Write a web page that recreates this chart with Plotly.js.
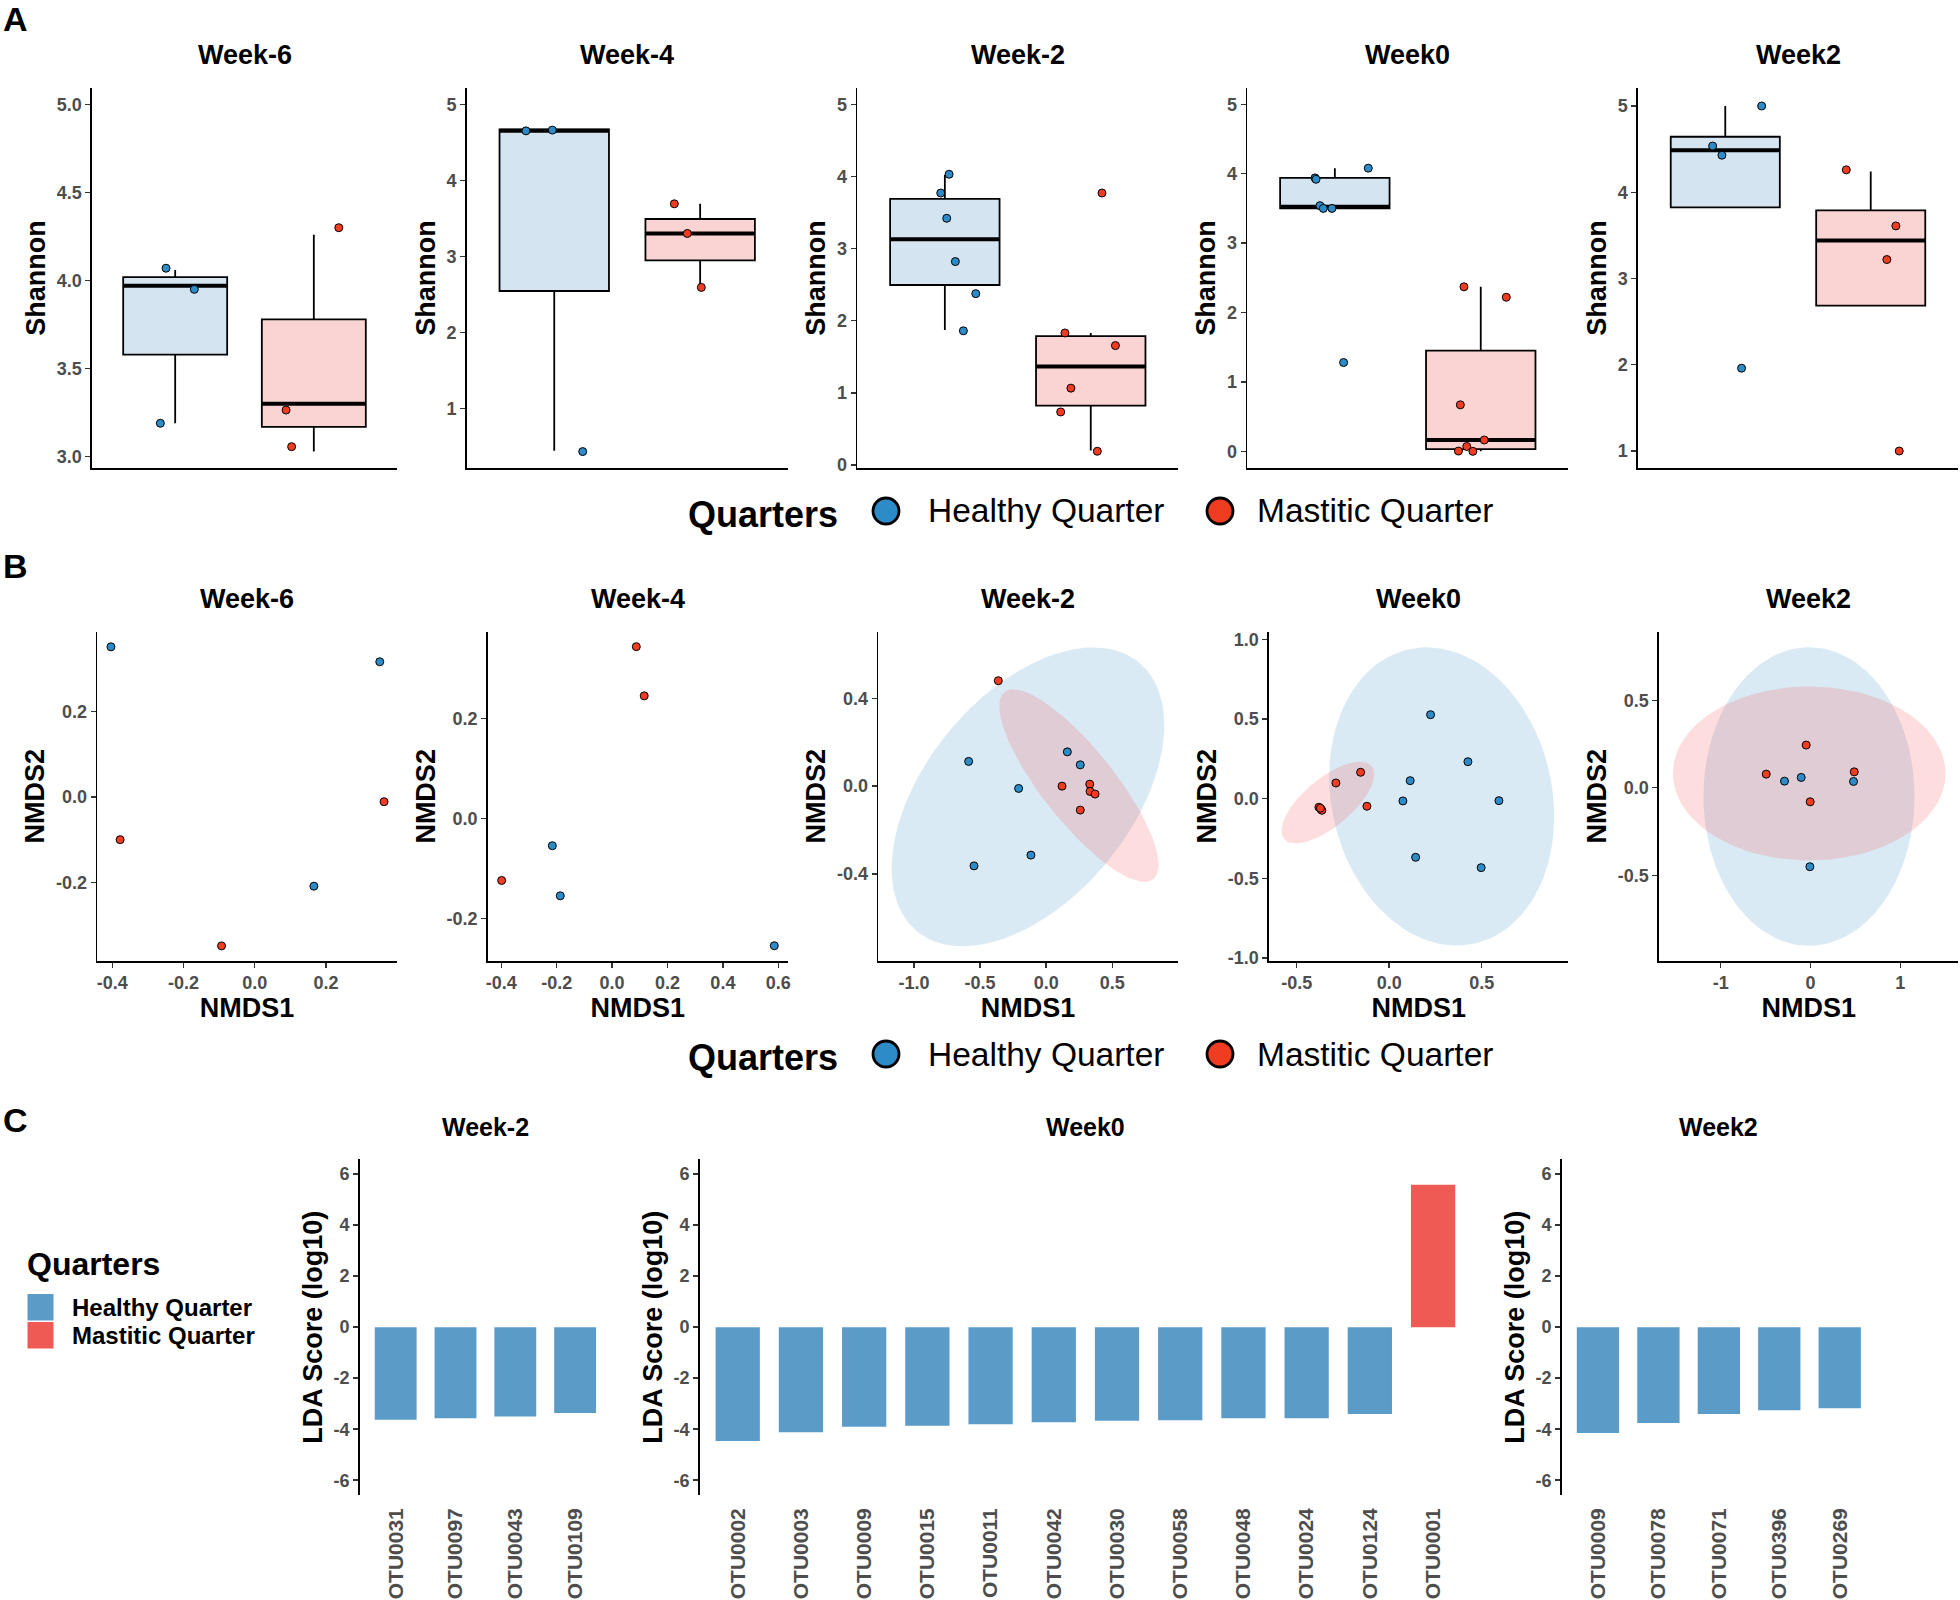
<!DOCTYPE html>
<html><head><meta charset="utf-8">
<script src="https://cdn.plot.ly/plotly-3.0.1.min.js"></script>
<style>html,body{margin:0;padding:0;background:#fff}</style>
</head><body>
<div id="chart" style="width:1960px;height:1600px"></div>
<script>
// ---------------- DATA ----------------
const weeks = ["Week-6", "Week-4", "Week-2", "Week0", "Week2"];
const groups = ["Healthy Quarter", "Mastitic Quarter"];

// Panel A: Shannon diversity per sample, with the jittered x position of each dot (1 = healthy, 2 = mastitic)
const shannonHealthy = [
  [4.07, 3.95, 3.19],
  [4.65, 4.66, 0.43],
  [4.03, 3.77, 3.42, 2.82, 2.375, 1.86],
  [3.94, 3.92, 4.08, 3.54, 3.50, 3.50, 1.28],
  [5.0, 4.536, 4.43, 1.96]
];
const jitterHealthy = [
  [0.934, 1.138, 0.893],
  [0.806, 0.987, 1.195],
  [1.029, 0.972, 1.013, 1.072, 1.212, 1.127],
  [0.864, 0.871, 1.229, 0.898, 0.921, 0.980, 1.060],
  [1.250, 0.913, 0.977, 1.112]
];
const shannonMastitic = [
  [4.30, 3.265, 3.057],
  [3.69, 3.30, 2.59],
  [3.77, 1.83, 1.655, 1.065, 0.735, 0.19],
  [2.37, 2.22, 0.67, 0.163, 0.07, 0.004, 0.0],
  [4.26, 3.61, 3.22, 1.0]
];
const jitterMastitic = [
  [2.18, 1.80, 1.84],
  [1.823, 1.912, 2.008],
  [2.077, 1.823, 2.169, 1.864, 1.794, 2.045],
  [1.885, 2.175, 1.860, 2.024, 1.904, 1.847, 1.946],
  [1.832, 2.173, 2.111, 2.196]
];
// Box statistics
const boxHealthyLow  = [3.19, 0.44, 1.87, 3.50, 3.825];
const boxHealthyQ1   = [3.58, 2.543, 2.495, 3.50, 3.825];
const boxHealthyMed  = [3.97, 4.65, 3.13, 3.525, 4.486];
const boxHealthyQ3   = [4.02, 4.67, 3.69, 3.94, 4.644];
const boxHealthyHigh = [4.06, 4.67, 4.02, 4.08, 5.0];
const boxMastiticLow  = [3.03, 2.59, 0.20, 0.0, 2.685];
const boxMastiticQ1   = [3.169, 2.947, 0.822, 0.033, 2.685];
const boxMastiticMed  = [3.30, 3.30, 1.365, 0.163, 3.44];
const boxMastiticQ3   = [3.78, 3.49, 1.785, 1.45, 3.79];
const boxMastiticHigh = [4.26, 3.69, 1.83, 2.37, 4.24];
const shannonTicks = [[3.0, 3.5, 4.0, 4.5, 5.0], [1, 2, 3, 4, 5], [0, 1, 2, 3, 4, 5], [0, 1, 2, 3, 4, 5], [1, 2, 3, 4, 5]];
const shannonTickText = [["3.0", "3.5", "4.0", "4.5", "5.0"], ["1", "2", "3", "4", "5"], ["0", "1", "2", "3", "4", "5"], ["0", "1", "2", "3", "4", "5"], ["1", "2", "3", "4", "5"]];

// Panel B: NMDS ordination
const nmds1Healthy = [
  [-0.4037, 0.351, 0.166],
  [-0.2157, -0.187, 0.5856],
  [0.160, 0.258, -0.5865, -0.2085, -0.1153, -0.546],
  [0.2236, 0.4254, 0.1135, 0.074, 0.593, 0.1427, 0.497],
  [-0.2895, -0.1036, 0.479, -0.0067]
];
const nmds2Healthy = [
  [0.352, 0.317, -0.209],
  [-0.0547, -0.155, -0.255],
  [0.156, 0.097, 0.1125, -0.0105, -0.314, -0.363],
  [0.527, 0.232, 0.113, -0.0144, -0.0125, -0.368, -0.433],
  [0.038, 0.059, 0.036, -0.451]
];
const nmds1Mastitic = [
  [0.363, -0.378, -0.0932],
  [0.0874, 0.116, -0.3986],
  [-0.362, 0.120, 0.3295, 0.332, 0.370, 0.258],
  [-0.1546, -0.288, -0.1205, -0.380, -0.369, -0.364, -0.372],
  [-0.048, -0.493, 0.487, -0.0033]
];
const nmds2Mastitic = [
  [-0.011, -0.100, -0.349],
  [0.344, 0.2455, -0.1243],
  [0.48, 0.0, 0.009, -0.024, -0.036, -0.109],
  [0.1656, 0.0985, -0.0477, -0.054, -0.0665, -0.073, -0.060],
  [0.244, 0.078, 0.091, -0.080]
];
// 95% ellipses: centre, semi-diameter through the top point (U) and the horizontal conjugate semi-diameter (V)
const ellipseWeek  = ["Week-2", "Week-2", "Week0", "Week0", "Week2", "Week2"];
const ellipseGroup = ["Healthy Quarter", "Mastitic Quarter", "Healthy Quarter", "Mastitic Quarter", "Healthy Quarter", "Mastitic Quarter"];
const ellipseCx = [-0.1377, 0.2481, 0.2838, -0.3314, -0.0167, -0.0145];
const ellipseCy = [-0.0487, 0.0023, 0.0138, -0.0238, -0.0497, 0.0817];
const ellipseUx = [0.4942, -0.4967, -0.0811, 0.173, 0.0, 0.0];
const ellipseUy = [0.6803, 0.4381, 0.936, 0.2562, 0.853, 0.4971];
const ellipseVx = [0.9053, 0.3412, 0.6027, 0.1811, 1.1748, 1.518];
const nmdsXTicks = [[-0.4, -0.2, 0, 0.2], [-0.4, -0.2, 0, 0.2, 0.4, 0.6], [-1, -0.5, 0, 0.5], [-0.5, 0, 0.5], [-1, 0, 1]];
const nmdsXTickText = [["-0.4", "-0.2", "0.0", "0.2"], ["-0.4", "-0.2", "0.0", "0.2", "0.4", "0.6"], ["-1.0", "-0.5", "0.0", "0.5"], ["-0.5", "0.0", "0.5"], ["-1", "0", "1"]];
const nmdsYTicks = [[-0.2, 0, 0.2], [-0.2, 0, 0.2], [-0.4, 0, 0.4], [-1, -0.5, 0, 0.5, 1], [-0.5, 0, 0.5]];
const nmdsYTickText = [["-0.2", "0.0", "0.2"], ["-0.2", "0.0", "0.2"], ["-0.4", "0.0", "0.4"], ["-1.0", "-0.5", "0.0", "0.5", "1.0"], ["-0.5", "0.0", "0.5"]];

// Panel C: LEfSe LDA scores
const ldaWeeks = ["Week-2", "Week0", "Week2"];
const ldaOtuWeekM2 = ["OTU0031", "OTU0097", "OTU0043", "OTU0109"];
const ldaScoreWeekM2 = [-3.63, -3.57, -3.50, -3.37];
const ldaGroupWeekM2 = ["Healthy Quarter", "Healthy Quarter", "Healthy Quarter", "Healthy Quarter"];
const ldaOtuWeek0 = ["OTU0002", "OTU0003", "OTU0009", "OTU0015", "OTU0011", "OTU0042", "OTU0030", "OTU0058", "OTU0048", "OTU0024", "OTU0124", "OTU0001"];
const ldaScoreWeek0 = [-4.46, -4.12, -3.90, -3.87, -3.81, -3.73, -3.67, -3.65, -3.57, -3.57, -3.40, 5.58];
const ldaGroupWeek0 = ["Healthy Quarter", "Healthy Quarter", "Healthy Quarter", "Healthy Quarter", "Healthy Quarter", "Healthy Quarter", "Healthy Quarter", "Healthy Quarter", "Healthy Quarter", "Healthy Quarter", "Healthy Quarter", "Mastitic Quarter"];
const ldaOtuWeek2 = ["OTU0009", "OTU0078", "OTU0071", "OTU0396", "OTU0269"];
const ldaScoreWeek2 = [-4.15, -3.76, -3.40, -3.26, -3.18];
const ldaGroupWeek2 = ["Healthy Quarter", "Healthy Quarter", "Healthy Quarter", "Healthy Quarter", "Healthy Quarter"];
const ldaTicks = [-6, -4, -2, 0, 2, 4, 6];

// ---------------- STYLE / LAYOUT ----------------
const FONT = "Liberation Sans, Arial, Helvetica, sans-serif";
const pointColor = {"Healthy Quarter": "#2D8BC8", "Mastitic Quarter": "#F03D22"};
const boxFill = {"Healthy Quarter": "#D4E4F0", "Mastitic Quarter": "#FAD4D3"};
const ellipseFill = {"Healthy Quarter": "rgba(70,150,200,0.20)", "Mastitic Quarter": "rgba(245,100,100,0.22)"};
const barColor = {"Healthy Quarter": "#5B9BC8", "Mastitic Quarter": "#EF5A55"};

const W = 1960, H = 1600;
const fx = p => p / W;
const fy = p => 1 - p / H;

// pixel boxes of the panels
const rowA = [88, 468], rowB = [631.7, 961], rowC = [1159.3, 1495];
const colA = [[92, 397], [466.7, 787.7], [857.3, 1178.3], [1247.3, 1568.3], [1638, 1958]];
const colB = [[97.3, 396.7], [487.7, 787.7], [878.3, 1177.7], [1269, 1568.3], [1659, 1958.3]];
const colC = [[359.8, 611], [699.8, 1471], [1561.7, 1876]];
const rangeA = [[2.936, 5.093], [0.214, 5.214], [-0.042, 5.226], [-0.24, 5.235], [0.803, 5.209]];
const rangeBx = [[-0.442, 0.3985], [-0.449, 0.634], [-1.27, 0.995], [-0.6497, 0.968], [-1.687, 1.646]];
const rangeBy = [[-0.3844, 0.3875], [-0.2856, 0.374], [-0.796, 0.703], [-1.019, 1.048], [-0.99, 0.892]];

const tickFont = {family: FONT, size: 18, color: "#4D4D4D", weight: "bold"};
const axTitleFont = {family: FONT, size: 27, color: "#000", weight: "bold"};
const panelTitleFont = {family: FONT, size: 27, color: "#000", weight: "bold"};

const layout = {
  width: W, height: H, margin: {l: 0, r: 0, t: 0, b: 0},
  paper_bgcolor: "#fff", plot_bgcolor: "#fff", showlegend: false,
  font: {family: FONT}, annotations: [], shapes: []
};

function axName(i) { return i === 1 ? "" : String(i); }
function baseAxis() {
  return {showgrid: false, zeroline: false, showline: true, linecolor: "#000", linewidth: 1.6,
          fixedrange: true};
}
function yAxis(i, rowPx, range, tickvals, ticktext, title) {
  return Object.assign(baseAxis(), {
    domain: [fy(rowPx[1]), fy(rowPx[0])], range, anchor: "x" + axName(i),
    tickmode: "array", tickvals, ticktext, ticks: "outside", ticklen: 5, tickwidth: 1.4, tickcolor: "#333",
    tickfont: tickFont, title: {text: title, font: axTitleFont, standoff: 3}
  });
}

const traces = [];
let axIdx = 0;

// ---- Panel A ----
weeks.forEach((wk, w) => {
  axIdx++;
  const n = axName(axIdx);
  layout["xaxis" + n] = Object.assign(baseAxis(), {
    domain: [fx(colA[w][0]), fx(colA[w][1])], range: [0.4, 2.6], anchor: "y" + n,
    ticks: "", showticklabels: false
  });
  layout["yaxis" + n] = yAxis(axIdx, rowA, rangeA[w], shannonTicks[w], shannonTickText[w], "Shannon");
  const stats = [
    [boxHealthyLow, boxHealthyQ1, boxHealthyMed, boxHealthyQ3, boxHealthyHigh],
    [boxMastiticLow, boxMastiticQ1, boxMastiticMed, boxMastiticQ3, boxMastiticHigh]
  ];
  groups.forEach((g, gi) => {
    const s = stats[gi];
    traces.push({
      type: "box", name: g, x: [gi + 1], lowerfence: [s[0][w]], q1: [s[1][w]], median: [s[2][w]],
      q3: [s[3][w]], upperfence: [s[4][w]], width: 0.75, whiskerwidth: 0, boxpoints: false,
      fillcolor: boxFill[g], line: {color: "#000", width: 1.8},
      xaxis: "x" + n, yaxis: "y" + n, hoverinfo: "skip"
    });
    // thicker median bar, as ggplot draws it
    traces.push({
      type: "scatter", mode: "lines", x: [gi + 1 - 0.375, gi + 1 + 0.375], y: [s[2][w], s[2][w]],
      line: {color: "#000", width: 4}, xaxis: "x" + n, yaxis: "y" + n, hoverinfo: "skip"
    });
  });
  [[jitterHealthy, shannonHealthy], [jitterMastitic, shannonMastitic]].forEach((pair, gi) => {
    traces.push({
      type: "scatter", mode: "markers", name: groups[gi], x: pair[0][w], y: pair[1][w],
      marker: {size: 8, color: pointColor[groups[gi]], line: {color: "#000", width: 1}},
      cliponaxis: false, xaxis: "x" + n, yaxis: "y" + n
    });
  });
  layout.annotations.push({text: wk, xref: "paper", yref: "paper", x: fx((colA[w][0] + colA[w][1]) / 2), y: fy(55),
    xanchor: "center", yanchor: "middle", showarrow: false, font: panelTitleFont});
});

// ---- Panel B ----
weeks.forEach((wk, w) => {
  axIdx++;
  const n = axName(axIdx);
  layout["xaxis" + n] = Object.assign(baseAxis(), {
    domain: [fx(colB[w][0]), fx(colB[w][1])], range: rangeBx[w], anchor: "y" + n,
    tickmode: "array", tickvals: nmdsXTicks[w], ticktext: nmdsXTickText[w],
    ticks: "outside", ticklen: 5, tickwidth: 1.4, tickcolor: "#333", tickfont: tickFont,
    title: {text: "NMDS1", font: axTitleFont, standoff: 0}
  });
  layout["yaxis" + n] = yAxis(axIdx, rowB, rangeBy[w], nmdsYTicks[w], nmdsYTickText[w], "NMDS2");
  ellipseWeek.forEach((ew, e) => {
    if (ew !== wk) return;
    const xs = [], ys = [];
    const steps = 120;
    for (let k = 0; k <= steps; k++) {
      const t = 2 * Math.PI * k / steps;
      xs.push(ellipseCx[e] + Math.cos(t) * ellipseUx[e] + Math.sin(t) * ellipseVx[e]);
      ys.push(ellipseCy[e] + Math.cos(t) * ellipseUy[e]);
    }
    traces.push({type: "scatter", mode: "lines", x: xs, y: ys, fill: "toself",
      fillcolor: ellipseFill[ellipseGroup[e]], line: {width: 0, color: "rgba(0,0,0,0)"},
      xaxis: "x" + n, yaxis: "y" + n, hoverinfo: "skip"});
  });
  [[nmds1Healthy, nmds2Healthy], [nmds1Mastitic, nmds2Mastitic]].forEach((pair, gi) => {
    traces.push({
      type: "scatter", mode: "markers", name: groups[gi], x: pair[0][w], y: pair[1][w],
      marker: {size: 8, color: pointColor[groups[gi]], line: {color: "#000", width: 1}},
      cliponaxis: false, xaxis: "x" + n, yaxis: "y" + n
    });
  });
  layout.annotations.push({text: wk, xref: "paper", yref: "paper", x: fx((colB[w][0] + colB[w][1]) / 2), y: fy(599),
    xanchor: "center", yanchor: "middle", showarrow: false, font: panelTitleFont});
});

// ---- Panel C ----
const ldaOtus = [ldaOtuWeekM2, ldaOtuWeek0, ldaOtuWeek2];
const ldaScores = [ldaScoreWeekM2, ldaScoreWeek0, ldaScoreWeek2];
const ldaGroups = [ldaGroupWeekM2, ldaGroupWeek0, ldaGroupWeek2];
ldaWeeks.forEach((wk, c) => {
  axIdx++;
  const n = axName(axIdx);
  layout["xaxis" + n] = {
    domain: [fx(colC[c][0]), fx(colC[c][1])], type: "category", categoryorder: "array",
    categoryarray: ldaOtus[c], range: [-0.6, ldaOtus[c].length - 0.4], anchor: "y" + n,
    showline: false, showgrid: false, zeroline: false, ticks: "", tickangle: -90, ticklabelstandoff: 8,
    tickfont: {family: FONT, size: 21, color: "#4D4D4D", weight: "bold"}, fixedrange: true
  };
  layout["yaxis" + n] = yAxis(axIdx, rowC, [-6.58, 6.58], ldaTicks, ldaTicks.map(String), "LDA Score (log10)");
  traces.push({
    type: "bar", x: ldaOtus[c], y: ldaScores[c], width: 0.7,
    marker: {color: ldaGroups[c].map(g => barColor[g]), line: {width: 0}},
    xaxis: "x" + n, yaxis: "y" + n, hoverinfo: "x+y"
  });
  layout.annotations.push({text: wk, xref: "paper", yref: "paper", x: fx((colC[c][0] + colC[c][1]) / 2), y: fy(1127),
    xanchor: "center", yanchor: "middle", showarrow: false, font: {family: FONT, size: 25, color: "#000", weight: "bold"}});
});

// ---- Panel letters ----
[["A", 18.5], ["B", 566], ["C", 1120]].forEach(([t, y]) => {
  layout.annotations.push({text: t, xref: "paper", yref: "paper", x: fx(15.5), y: fy(y), xanchor: "center", yanchor: "middle",
    showarrow: false, font: {family: FONT, size: 34, color: "#000", weight: "bold"}});
});

// ---- Legends of panels A and B (horizontal, circles) ----
[511, 1054].forEach(yc => {
  layout.annotations.push({text: "Quarters", xref: "paper", yref: "paper", x: fx(686), y: fy(yc + 3), xanchor: "left", yanchor: "middle",
    showarrow: false, font: {family: FONT, size: 36, color: "#000", weight: "bold"}});
  const circX = [886, 1220], textX = [926, 1255];
  groups.forEach((g, gi) => {
    layout.shapes.push({type: "circle", xref: "paper", yref: "paper",
      x0: fx(circX[gi] - 13), x1: fx(circX[gi] + 13), y0: fy(yc + 13), y1: fy(yc - 13),
      fillcolor: pointColor[g], line: {color: "#000", width: 2.8}});
    layout.annotations.push({text: g, xref: "paper", yref: "paper", x: fx(textX[gi]), y: fy(yc), xanchor: "left", yanchor: "middle",
      showarrow: false, font: {family: FONT, size: 33.5, color: "#000"}});
  });
});

// ---- Legend of panel C (vertical, squares) ----
layout.annotations.push({text: "Quarters", xref: "paper", yref: "paper", x: fx(25), y: fy(1264), xanchor: "left", yanchor: "middle",
  showarrow: false, font: {family: FONT, size: 32, color: "#000", weight: "bold"}});
groups.forEach((g, gi) => {
  const y0 = 1294 + gi * 28;
  layout.shapes.push({type: "rect", xref: "paper", yref: "paper", x0: fx(27.5), x1: fx(53.5), y0: fy(y0 + 26.5), y1: fy(y0),
    fillcolor: barColor[g], line: {width: 0}});
  layout.annotations.push({text: g, xref: "paper", yref: "paper", x: fx(70), y: fy(y0 + 13), xanchor: "left", yanchor: "middle",
    showarrow: false, font: {family: FONT, size: 24, color: "#000", weight: "bold"}});
});

Plotly.newPlot("chart", traces, layout, {displayModeBar: false, staticPlot: true});
</script>
</body></html>
